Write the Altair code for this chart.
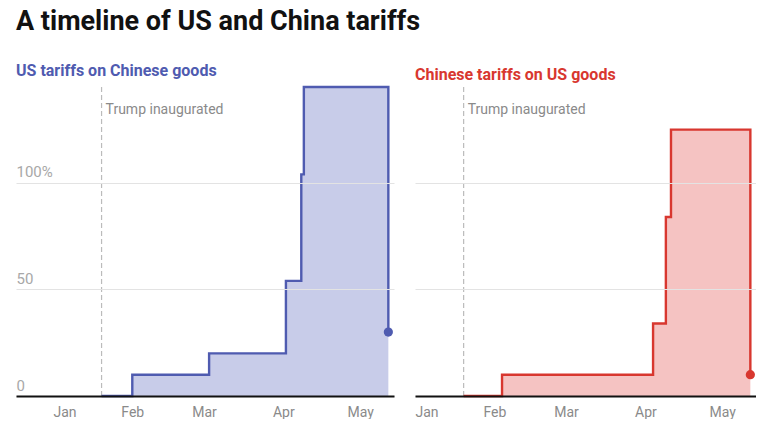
import altair as alt
import pandas as pd

# Tariff rates (%) with the dates they took effect
us_dates = ["2025-01-20", "2025-02-01", "2025-03-03", "2025-04-02", "2025-04-08", "2025-04-09", "2025-05-12"]
us_rates = [0, 10, 20, 54, 104, 145, 30]

cn_dates = ["2025-01-20", "2025-02-04", "2025-04-04", "2025-04-09", "2025-04-11", "2025-05-12"]
cn_rates = [0, 10, 34, 84, 125, 10]

inauguration = "2025-01-20"
note_label = "Trump inaugurated"
y_ticks = [0, 50, 100]

BLUE, BLUE_FILL = "#4f5bb0", "#c8cce9"
RED, RED_FILL = "#d8372f", "#f5c3c2"
FONT = "Roboto"


def frame(dates, rates):
    return pd.DataFrame({"date": [d + "T00:00:00" for d in dates], "rate": rates})


def panel(df, line_color, fill_color, title, width, x_start, show_y):
    x_scale = alt.Scale(
        domain=[x_start, alt.DateTime(year=2025, month=5, date=14, hours=5)]
    )
    y_scale = alt.Scale(domain=[0, 145], nice=False)
    x_axis = alt.Axis(
        title=None, format="%b", tickCount={"interval": "month", "step": 1},
        grid=False, ticks=False, tickSize=0, domainColor="#111111", domainWidth=2,
        labelColor="#8a8a8a", labelFontSize=14, labelFont=FONT, labelPadding=9,
        zindex=1,
        labelAlign={"condition": {"test": "month(datum.value) == 0", "value": "left"},
                    "value": "center"},
    )
    y_axis = alt.Axis(
        title=None, values=y_ticks, grid=True, gridColor="#e3e3e3", domain=False,
        ticks=False, tickSize=0, labels=show_y, labelAlign="left", labelPadding=0,
        labelBaseline="alphabetic", labelOffset=-6, labelColor="#a8a8a8",
        labelFontSize=15, labelFont=FONT, zindex=1,
        labelExpr="datum.value == 100 ? '100%' : datum.label",
    )
    x = alt.X("date:T", scale=x_scale, axis=x_axis)
    y = alt.Y("rate:Q", scale=y_scale, axis=y_axis)

    area = alt.Chart(df).mark_area(interpolate="step-after", color=fill_color).encode(x=x, y=y)
    line = alt.Chart(df).mark_line(interpolate="step-after", color=line_color, strokeWidth=2.4).encode(x=x, y=y)
    last = alt.Chart(df.tail(1)).mark_point(filled=True, size=85, opacity=1, color=line_color).encode(x=x, y=y)

    note = pd.DataFrame({"date": [inauguration + "T00:00:00"], "rate": [134], "label": [note_label]})
    rule = alt.Chart(note).mark_rule(color="#bbbbbb", strokeDash=[5, 3], strokeWidth=1.2).encode(x="date:T")
    text = alt.Chart(note).mark_text(
        align="left", baseline="middle", dx=4, fontSize=14, font=FONT, color="#8a8a8a"
    ).encode(x="date:T", y="rate:Q", text="label:N")

    return alt.layer(rule, area, line, last, text).properties(
        width=width, height=309,
        title=alt.TitleParams(title, anchor="start", color=line_color, fontSize=16,
                              font=FONT, fontWeight="bold", offset=3),
    )


left = panel(frame(us_dates, us_rates), BLUE, BLUE_FILL, "US tariffs on Chinese goods",
             378, alt.DateTime(year=2024, month=12, date=17, hours=14), True)
right = panel(frame(cn_dates, cn_rates), RED, RED_FILL, "Chinese tariffs on US goods",
              341, alt.DateTime(year=2025, month=1, date=1), False)

chart = alt.hconcat(left, right, spacing=21).resolve_scale(x="independent").properties(
    title=alt.TitleParams("A timeline of US and China tariffs", anchor="start", fontSize=27,
                          font=FONT, fontWeight="bold", color="#111111", offset=27),
    padding={"left": 16, "top": 8, "right": 0, "bottom": 0},
    background="white",
).configure_view(stroke=None)

chart.save("out.html", embed_options={"renderer": "svg", "actions": False})
